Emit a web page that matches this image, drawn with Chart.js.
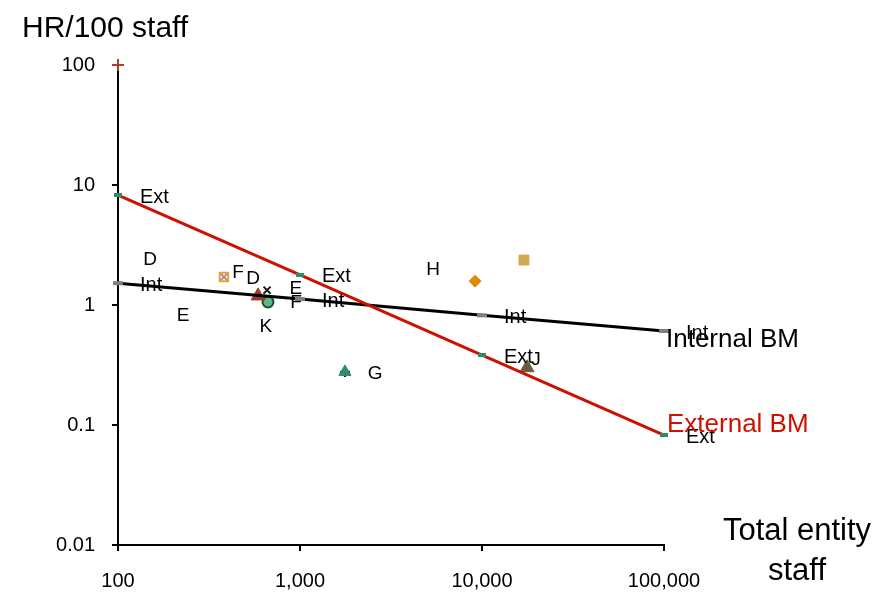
<!DOCTYPE html>
<html>
<head>
<meta charset="utf-8">
<script src="https://cdn.jsdelivr.net/npm/chart.js@4"></script>
<style>
  body { margin: 0; background: #fff; }
</style>
</head>
<body>
<canvas id="hrChart" width="895" height="598"></canvas>
<script>
// benchmark lines
const benchStaff = [100, 1000, 10000, 100000];
const externalBM = [8.25, 1.78, 0.383, 0.0825];
const internalBM = [1.52, 1.12, 0.82, 0.607];

// entities
const redPlus = [{x: 100, y: 100}];
const orangeBox = [{x: 382, y: 1.71}];
const blackX = [{x: 659, y: 1.33}];
const brownTri = [{x: 588, y: 1.19}];
const greenDot = [{x: 667, y: 1.06}];
const greenTri = [{x: 1766, y: 0.277}];
const orangeDiamond = [{x: 9160, y: 1.58}];
const tanSquare = [{x: 17000, y: 2.37}];
const oliveTri = [{x: 17700, y: 0.30}];

// letter labels (anchored in data units)
const letterText = ['D', 'E', 'F', 'D', 'E', 'F', 'K', 'G', 'H', 'J'];
const letterX = [150, 228, 456, 552, 950, 950, 650, 2584, 5380, 19800];
const letterY = [2.37, 0.81, 1.85, 1.65, 1.36, 1.04, 0.656, 0.266, 1.96, 0.348];

// ticks
const xTickValues = [100, 1000, 10000, 100000];
const xTickLabels = ['100', '1,000', '10,000', '100,000'];
const yTickValues = [0.01, 0.1, 1, 10, 100];
const yTickLabels = ['0.01', '0.1', '1', '10', '100'];

const FONT = '"Liberation Sans", Arial, sans-serif';

Chart.register({
    id: 'chartTexts',
    afterDatasetsDraw(chart) {
        const {ctx} = chart;
        const xs = chart.scales.x;
        const ys = chart.scales.y;
        ctx.save();
        ctx.textBaseline = 'middle';

        // Ext / Int tags beside benchmark markers
        ctx.font = '20px ' + FONT;
        ctx.fillStyle = '#000';
        ctx.textAlign = 'left';
        [[0, 'Ext'], [1, 'Int']].forEach(([i, tag]) => {
            chart.getDatasetMeta(i).data.forEach(pt => {
                ctx.fillText(tag, pt.x + 22, pt.y + 2);
            });
        });

        // letter labels
        ctx.textAlign = 'center';
        ctx.font = '19px ' + FONT;
        letterText.forEach((t, i) => {
            ctx.fillText(t, xs.getPixelForValue(letterX[i]), ys.getPixelForValue(letterY[i]));
        });

        // line names
        ctx.font = '26px ' + FONT;
        ctx.textAlign = 'left';
        ctx.fillStyle = '#000';
        ctx.fillText('Internal BM', xs.right + 2, ys.getPixelForValue(internalBM[3]) + 9);
        ctx.fillStyle = '#cc1100';
        ctx.fillText('External BM', xs.right + 3, ys.getPixelForValue(externalBM[3]) - 10);

        // axis titles
        ctx.fillStyle = '#000';
        ctx.font = '30px ' + FONT;
        ctx.fillText('HR/100 staff', 22, 29);
        ctx.textAlign = 'center';
        ctx.font = '31px ' + FONT;
        ctx.fillText('Total entity', 797, 531);
        ctx.fillText('staff', 797, 571);
        ctx.restore();
    }
});

const ctx = document.getElementById('hrChart');

new Chart(ctx, {
    type: 'scatter',
    data: {
        datasets: [
            {
                label: 'External BM',
                data: benchStaff.map((s, i) => ({x: s, y: externalBM[i]})),
                showLine: true,
                borderColor: '#cc1100',
                borderWidth: 3,
                pointStyle: 'line',
                pointRadius: 4,
                pointBorderWidth: 4,
                pointBorderColor: '#2e8b6a',
                clip: false
            },
            {
                label: 'Internal BM',
                data: benchStaff.map((s, i) => ({x: s, y: internalBM[i]})),
                showLine: true,
                borderColor: '#000',
                borderWidth: 3,
                pointStyle: 'line',
                pointRadius: 5,
                pointBorderWidth: 4,
                pointBorderColor: '#7f7f7f',
                clip: false
            },
            {
                data: redPlus,
                pointStyle: 'cross',
                pointRadius: 6,
                pointBorderWidth: 2,
                pointBorderColor: '#b03a2e',
                clip: false
            },
            {
                data: orangeBox,
                pointStyle: 'rect',
                pointRadius: 6,
                pointBorderWidth: 2,
                pointBorderColor: '#f0a030',
                pointBackgroundColor: 'rgba(255,255,255,0.6)'
            },
            {
                data: orangeBox,
                pointStyle: 'crossRot',
                pointRadius: 5,
                pointBorderWidth: 2,
                pointBorderColor: '#000'
            },
            {
                data: brownTri,
                pointStyle: 'triangle',
                pointRadius: 8,
                pointBorderWidth: 1,
                pointBorderColor: '#a33a2c',
                pointBackgroundColor: '#a33a2c'
            },
            {
                data: blackX,
                pointStyle: 'crossRot',
                pointRadius: 5,
                pointBorderWidth: 2,
                pointBorderColor: '#1a1a1a'
            },
            {
                data: greenDot,
                pointStyle: 'circle',
                pointRadius: 5.5,
                pointBorderWidth: 2,
                pointBorderColor: '#1f4a30',
                pointBackgroundColor: '#5cb885'
            },
            {
                data: greenTri,
                pointStyle: 'triangle',
                pointRadius: 7,
                pointBorderWidth: 1,
                pointBorderColor: '#2e8b6a',
                pointBackgroundColor: '#2e8b6a'
            },
            {
                data: greenTri,
                pointStyle: 'cross',
                pointRadius: 5,
                pointBorderWidth: 2,
                pointBorderColor: '#000'
            },
            {
                data: orangeDiamond,
                pointStyle: 'rectRot',
                pointRadius: 6,
                pointBorderWidth: 1,
                pointBorderColor: '#e08a00',
                pointBackgroundColor: '#e08a00'
            },
            {
                data: tanSquare,
                pointStyle: 'rect',
                pointRadius: 7,
                pointBorderWidth: 1,
                pointBorderColor: '#d4a850',
                pointBackgroundColor: '#d4a850'
            },
            {
                data: oliveTri,
                pointStyle: 'triangle',
                pointRadius: 8,
                pointBorderWidth: 1,
                pointBorderColor: '#6b5a3c',
                pointBackgroundColor: '#6b5a3c'
            }
        ]
    },
    options: {
        responsive: false,
        animation: false,
        events: [],
        layout: {
            padding: {top: 65, right: 231, bottom: 0, left: 0}
        },
        plugins: {
            legend: {display: false},
            tooltip: {enabled: false}
        },
        scales: {
            x: {
                type: 'logarithmic',
                min: 100,
                max: 100000,
                afterFit(axis) { axis.height = 53; },
                afterBuildTicks(axis) {
                    axis.ticks = xTickValues.map(v => ({value: v}));
                },
                ticks: {
                    color: '#000',
                    font: {family: FONT, size: 20},
                    padding: 18,
                    maxRotation: 0,
                    autoSkip: false,
                    callback: (value) => xTickLabels[xTickValues.indexOf(value)]
                },
                border: {color: '#000', width: 2},
                grid: {
                    drawOnChartArea: false,
                    drawTicks: true,
                    tickLength: 6,
                    color: '#000',
                    lineWidth: 2
                }
            },
            y: {
                type: 'logarithmic',
                min: 0.01,
                max: 100,
                afterFit(axis) { axis.width = 118; },
                afterBuildTicks(axis) {
                    axis.ticks = yTickValues.map(v => ({value: v}));
                },
                ticks: {
                    color: '#000',
                    font: {family: FONT, size: 20},
                    padding: 17,
                    autoSkip: false,
                    callback: (value) => yTickLabels[yTickValues.indexOf(value)]
                },
                border: {color: '#000', width: 2},
                grid: {
                    drawOnChartArea: false,
                    drawTicks: true,
                    tickLength: 6,
                    color: '#000',
                    lineWidth: 2
                }
            }
        }
    }
});
</script>
</body>
</html>
